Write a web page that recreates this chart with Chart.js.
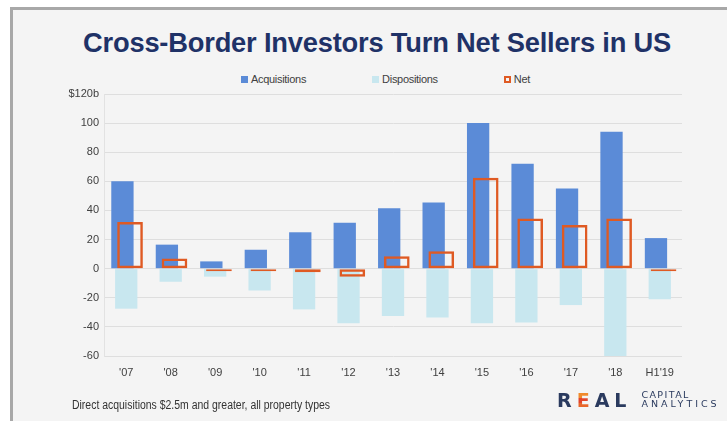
<!DOCTYPE html>
<html>
<head>
<meta charset="utf-8">
<script src="https://cdn.jsdelivr.net/npm/chart.js@4.4.1/dist/chart.umd.min.js"></script>
<style>
  html, body { margin: 0; padding: 0; background: #ffffff; }
  body { position: relative; width: 727px; height: 421px; overflow: hidden; }
  #panel {
    position: absolute; left: 10px; top: 7px; right: 0; bottom: 0;
    background: #f4f4f4;
    border-left: 3px solid #a8a8a8; border-top: 3px solid #a8a8a8;
  }
  #title {
    position: absolute; left: 83px; top: 30px;
    font: bold 27px/27px 'Liberation Sans', Arial, sans-serif;
    color: #1f3267; white-space: nowrap; letter-spacing: -0.2px;
    transform-origin: 0 0;
  }
  #legend {
    position: absolute; left: 0; top: 72px; width: 771px;
    display: flex; justify-content: center; gap: 66px;
    font: 11px/14px 'Liberation Sans', Arial, sans-serif; letter-spacing: -0.3px;
    color: #404040;
  }
  #legend .item { display: flex; align-items: center; white-space: nowrap; }
  #legend .swatch { width: 7px; height: 7px; margin-right: 3px; box-sizing: border-box; }
  #chart { position: absolute; left: 0; top: 0; }
  #note {
    position: absolute; left: 72px; top: 398px;
    font: 12px/14px 'Liberation Sans', Arial, sans-serif;
    color: #333333; white-space: nowrap; transform-origin: 0 0;
  }
  #logo { position: absolute; left: 557px; top: 389px; height: 24px; display: flex; align-items: flex-start; }
  #logo .big {
    font: bold 19px/22px 'DejaVu Sans', sans-serif; color: #2a3a5e; letter-spacing: 5px;
  }
  #logo .stripe {
    background: linear-gradient(#f08a2c 0 42%, #e2452c 42% 62%, #e8662a 62% 100%);
    -webkit-background-clip: text; background-clip: text; color: transparent;
  }
  #logo .small {
    margin-left: 10px; margin-top: 2px;
    font: 9.5px/8.5px 'DejaVu Sans', sans-serif; color: #2a3a5e;
  }
  #logo .small div:first-child { letter-spacing: 1.4px; }
  #logo .small div:last-child { letter-spacing: 3px; }
</style>
</head>
<body>
<div id="panel"></div>
<div id="title">Cross-Border Investors Turn Net Sellers in US</div>
<div id="legend"></div>
<canvas id="chart" width="727" height="421"></canvas>
<div id="note">Direct acquisitions $2.5m and greater, all property types</div>
<div id="logo">
  <span class="big">R</span><span class="big stripe">E</span><span class="big">AL</span>
  <div class="small"><div>CAPITAL</div><div>ANALYTICS</div></div>
</div>
<script>
// Cross-border investment volume in the US, $ billions
const categories   = ["'07", "'08", "'09", "'10", "'11", "'12", "'13", "'14", "'15", "'16", "'17", "'18", "H1'19"];
const acquisitions = [60, 16.5, 5, 13, 25, 31.5, 41.5, 45.5, 100, 72, 55, 94, 21];
const dispositions = [-27.5, -9, -5.5, -15, -28, -37.5, -32.5, -33.5, -37.5, -37, -25, -60, -21];
const net          = [32, 7, -1, -1.5, -2.5, -5.5, 8.5, 12, 62.5, 34.5, 30, 34.5, -0.5];

const yTickValues = [-60, -40, -20, 0, 20, 40, 60, 80, 100, 120];
const yTickLabels = ['-60', '-40', '-20', '0', '20', '40', '60', '80', '100', '$120b'];

Chart.defaults.font.family = "'Liberation Sans', Arial, sans-serif";
Chart.defaults.color = '#404040';

const NET_INDEX = 2;

// Paint the Net outlines after the filled bars so they stay on top
const netOnTop = {
  id: 'netOnTop',
  beforeDatasetDraw(chart, args) {
    if (args.index === NET_INDEX) return false;
  },
  afterDatasetsDraw(chart) {
    const meta = chart.getDatasetMeta(NET_INDEX);
    if (!meta.hidden) meta.controller.draw();
  }
};

const chart = new Chart(document.getElementById('chart'), {
  type: 'bar',
  data: {
    labels: categories,
    datasets: [
      { label: 'Acquisitions', data: acquisitions, backgroundColor: '#5b8bd7', barPercentage: 5.87 },
      { label: 'Dispositions', data: dispositions, backgroundColor: '#c8e7ef', barPercentage: 5.87 },
      { label: 'Net', data: net, backgroundColor: 'rgba(0,0,0,0)', borderColor: '#df5a23',
        borderWidth: 2.5, borderSkipped: false, inflateAmount: 0, minBarLength: 2.5, barPercentage: 6.76 }
    ]
  },
  options: {
    responsive: false,
    animation: false,
    devicePixelRatio: 1,
    layout: { padding: { left: 50, right: 45, top: 94, bottom: 40 } },
    datasets: { bar: { categoryPercentage: 0.2564 } },
    plugins: { legend: { display: false }, tooltip: { enabled: false } },
    scales: {
      x: {
        offset: true,
        grid: { display: false, drawTicks: false },
        border: { display: false },
        ticks: { padding: 10, font: { size: 11 }, color: '#404040', maxRotation: 0, autoSkip: false },
        afterFit(scale) { scale.height = 25; }
      },
      y: {
        min: -60, max: 120,
        afterBuildTicks(scale) { scale.ticks = yTickValues.map(v => ({ value: v })); },
        ticks: { padding: 5, font: { size: 11 }, color: '#404040', callback: (v, i) => yTickLabels[i] },
        grid: { color: '#dedede', drawTicks: false },
        border: { display: true, color: '#e2e2e2' },
        afterFit(scale) { scale.width = 54; }
      }
    }
  },
  plugins: [netOnTop]
});

// Legend row built from the chart's own legend items
const legendEl = document.getElementById('legend');
Chart.defaults.plugins.legend.labels.generateLabels(chart).forEach(item => {
  const row = document.createElement('div');
  row.className = 'item';
  const sw = document.createElement('span');
  sw.className = 'swatch';
  sw.style.background = item.fillStyle;
  if (item.lineWidth) sw.style.border = Math.min(item.lineWidth, 2) + 'px solid ' + item.strokeStyle;
  const tx = document.createElement('span');
  tx.textContent = item.text;
  row.appendChild(sw);
  row.appendChild(tx);
  legendEl.appendChild(row);
});

// Squeeze a text block horizontally to a set width
function fitWidth(el, width) {
  const w = el.getBoundingClientRect().width;
  if (w > 0) el.style.transform = 'scaleX(' + (width / w) + ')';
}
fitWidth(document.getElementById('title'), 588);
fitWidth(document.getElementById('note'), 258);
</script>
</body>
</html>
